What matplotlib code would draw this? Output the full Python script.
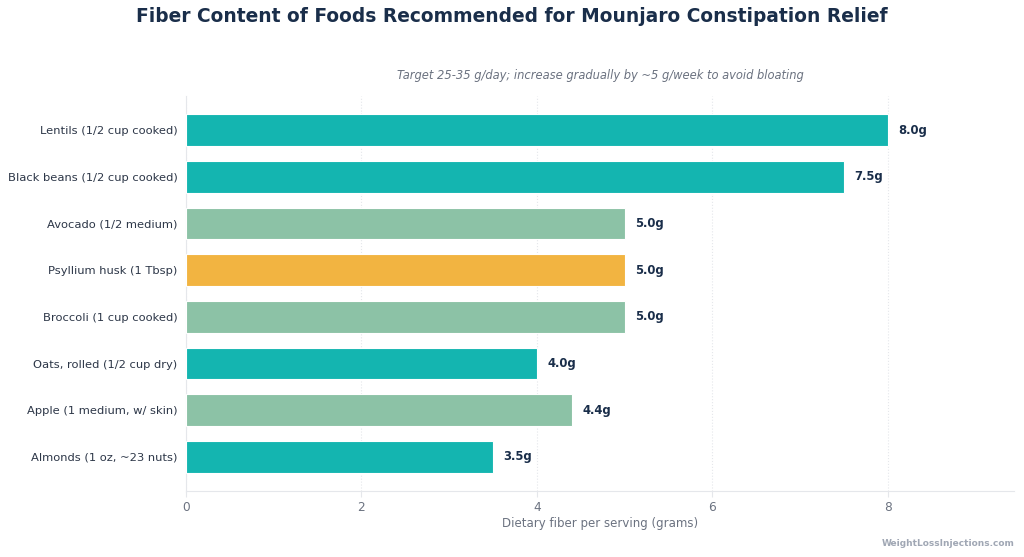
import matplotlib.pyplot as plt

foods = ["Lentils (1/2 cup cooked)", "Black beans (1/2 cup cooked)", "Avocado (1/2 medium)",
         "Psyllium husk (1 Tbsp)", "Broccoli (1 cup cooked)", "Oats, rolled (1/2 cup dry)",
         "Apple (1 medium, w/ skin)", "Almonds (1 oz, ~23 nuts)"]
fiber = [8.0, 7.5, 5.0, 5.0, 5.0, 4.0, 4.4, 3.5]
groups = ["legume", "legume", "produce", "supplement", "produce", "legume", "produce", "legume"]

palette = {"legume": "#14b5b0", "produce": "#8cc2a6", "supplement": "#f2b441"}
colors = [palette[g] for g in groups]

fig = plt.figure(figsize=(10.24, 5.57), dpi=100)
ax = fig.add_axes([186 / 1024, 1 - 491 / 557, (1014 - 186) / 1024, (491 - 96) / 557])

ypos = list(range(len(foods)))
ax.barh(ypos, fiber, height=0.68, color=colors, edgecolor="white", linewidth=0.8, zorder=3)

for y, v in zip(ypos, fiber):
    ax.text(v + 0.12, y, f"{v:.1f}g", va="center", ha="left", fontsize=8.4,
            fontweight="bold", color="#1a2e4a")

ax.set_yticks(ypos)
ax.set_yticklabels(foods, fontsize=8.25, color="#2d3748")
ax.set_ylim(7.73, -0.73)
ax.set_xlim(0, 9.44)
ax.set_xticks([0, 2, 4, 6, 8])
ax.tick_params(axis="x", colors="#6b7280", labelsize=8.7, length=4, color="#e5e7eb")
ax.tick_params(axis="y", length=0, pad=6)
ax.set_xlabel("Dietary fiber per serving (grams)", fontsize=8.5, color="#6b7280", labelpad=2)

ax.grid(axis="x", linestyle=":", color="#e5e7eb", linewidth=0.8, zorder=0)
for s in ["top", "right"]:
    ax.spines[s].set_visible(False)
for s in ["left", "bottom"]:
    ax.spines[s].set_color("#e5e7eb")

ax.set_title("Target 25-35 g/day; increase gradually by ~5 g/week to avoid bloating",
             fontsize=8.3, style="italic", color="#6b7280", pad=12)
fig.text(0.5, 1 - 16 / 557, "Fiber Content of Foods Recommended for Mounjaro Constipation Relief",
         ha="center", va="center", fontsize=13.4, fontweight="bold", color="#1a2e4a")
fig.text(1015 / 1024, 1 - 544 / 557, "WeightLossInjections.com", ha="right", va="center",
         fontsize=6.5, fontweight="bold", color="#a0a7b4")

fig.savefig("out.png", dpi=100)
